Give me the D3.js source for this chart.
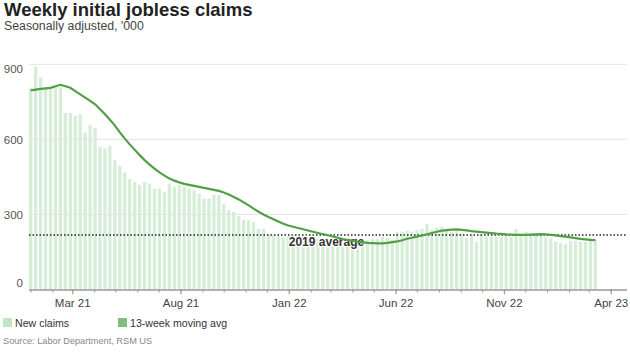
<!DOCTYPE html>
<html>
<head>
<meta charset="utf-8">
<script src="https://cdnjs.cloudflare.com/ajax/libs/d3/7.8.5/d3.min.js"></script>
<style>
  body { margin: 0; background: #fff; }
  svg { display: block; font-family: "Liberation Sans", Arial, sans-serif; }
</style>
</head>
<body>
<svg id="chart" width="630" height="354"></svg>
<script>
// week ending date of the first bar, one bar per week after that
let firstWeek = "2021-01-02";

// new claims, seasonally adjusted, '000
let newClaims = [805, 891, 847, 808, 808, 812, 810, 705, 705, 694,
  700, 627, 658, 645, 571, 565, 574, 518, 494, 467,
  441, 430, 419, 429, 423, 403, 403, 391, 423, 411,
  417, 411, 403, 397, 383, 362, 363, 379, 378, 341,
  318, 309, 294, 279, 278, 269, 243, 242, 217, 217,
  213, 209, 214, 218, 216, 213, 210, 207, 204, 200,
  197, 194, 192, 194, 196, 198, 198, 198, 197, 201,
  201, 211, 206, 198, 229, 231, 235, 231, 238, 242,
  262, 238, 247, 251, 238, 231, 238, 225, 205, 218,
  190, 218, 211, 211, 211, 211, 213, 211, 241, 218,
  231, 218, 218, 225, 209, 205, 191, 185, 181, 195,
  195, 191, 191, 205, 198];

// 13-week moving average
let movingAvg = [796, 799, 802, 804, 806, 812, 818, 812, 806, 793,
  780, 767, 754, 740, 720, 700, 678, 655, 628, 603,
  580, 558, 537, 517, 499, 483, 468, 455, 444, 435,
  428, 422, 418, 414, 410, 406, 402, 398, 394, 388,
  380, 370, 360, 348, 336, 323, 311, 300, 290, 281,
  272, 263, 256, 251, 246, 241, 236, 231, 226, 221,
  217, 212, 207, 202, 198, 195, 191, 188, 186, 185,
  184, 184, 186, 189, 192, 197, 203, 207, 211, 216,
  221, 226, 231, 235, 237, 239, 240, 238, 236, 233,
  231, 229, 227, 225, 223, 222, 220, 219, 218, 218,
  218, 219, 220, 221, 220, 218, 216, 213, 211, 208,
  205, 202, 200, 198, 197];

let avg2019 = 218;
let avgLabel = "2019 average";
let yTicks = [0, 300, 600, 900];
let xTickDates = ["2021-03-01", "2021-08-01", "2022-01-01", "2022-06-01", "2022-11-01", "2023-04-01"];
let legendLabels = ["New claims", "13-week moving avg"];

let parse = d3.timeParse("%Y-%m-%d");
let start = parse(firstWeek);
let weeks = newClaims.map((d, i) => d3.timeWeek.offset(start, i));

let svg = d3.select("#chart");

// scales
let x = d3.scaleTime()
  .domain([parse("2021-01-01"), parse("2023-04-24")])
  .range([30.5, 627]);
let y = d3.scaleLinear()
  .domain([0, 900])
  .range([289.5, 64.3]);

// title + subtitle
svg.append("text")
  .attr("x", 4).attr("y", 16)
  .style("font-size", "18.5px").style("font-weight", "bold")
  .style("fill", "#222")
  .text("Weekly initial jobless claims");
svg.append("text")
  .attr("x", 4).attr("y", 29.5)
  .style("font-size", "12.3px")
  .style("fill", "#444")
  .text("Seasonally adjusted, '000");

// bars
svg.append("g")
  .selectAll("rect")
  .data(newClaims)
  .enter()
  .append("rect")
  .attr("x", (d, i) => x(weeks[i]) - 2.2)
  .attr("y", d => y(d))
  .attr("width", 3.3)
  .attr("height", d => y(0) - y(d))
  .attr("fill", "#d6edd7");

// gridlines
svg.append("g")
  .selectAll("line")
  .data(yTicks.filter(d => d > 0))
  .enter()
  .append("line")
  .attr("x1", 29).attr("x2", 627)
  .attr("y1", d => y(d)).attr("y2", d => y(d))
  .attr("stroke", "#e4e4e4")
  .attr("stroke-width", 1);

// y labels
let yAxis = svg.append("g")
  .attr("transform", "translate(23,0)")
  .call(d3.axisLeft(y).tickValues(yTicks).tickSize(0).tickPadding(0));
yAxis.select(".domain").remove();
yAxis.selectAll("text")
  .style("font-size", "11.5px")
  .style("font-family", "'Liberation Sans', Arial, sans-serif")
  .style("fill", "#555")
  .attr("dy", d => d == 900 ? "0.75em" : (d == 0 ? "-0.3em" : "0.32em"));

// 2019 average
svg.append("line")
  .attr("x1", 29).attr("x2", 627)
  .attr("y1", y(avg2019)).attr("y2", y(avg2019))
  .attr("stroke", "#222")
  .attr("stroke-width", 1.5)
  .attr("stroke-dasharray", "1.5,2");
svg.append("text")
  .attr("x", x(parse("2022-01-01")))
  .attr("y", y(avg2019) + 11.5)
  .style("font-size", "12px").style("font-weight", "bold")
  .style("fill", "#333")
  .style("stroke", "#fff").style("stroke-width", 2.5)
  .style("paint-order", "stroke")
  .text(avgLabel);

// moving average line
let line = d3.line()
  .x((d, i) => x(weeks[i]) - 0.5)
  .y(d => y(d));
svg.append("path")
  .datum(movingAvg)
  .attr("d", line)
  .attr("fill", "none")
  .attr("stroke", "#52a046")
  .attr("stroke-width", 2.2);

// x axis: monthly minor ticks, labels every 5 months
let minor = svg.append("g")
  .attr("transform", "translate(0," + y(0) + ")")
  .call(d3.axisBottom(x).ticks(d3.timeMonth.every(1)).tickSize(3).tickFormat(""));
minor.select(".domain").remove();
minor.selectAll("line").attr("stroke", "#999");

let major = svg.append("g")
  .attr("transform", "translate(0," + y(0) + ")")
  .call(d3.axisBottom(x)
    .tickValues(xTickDates.map(parse))
    .tickSize(5)
    .tickPadding(4)
    .tickFormat(d3.timeFormat("%b %y")));
major.select(".domain")
  .attr("d", "M29,0.5H627")
  .attr("stroke", "#999")
  .attr("stroke-width", 1.5);
major.selectAll("line").attr("stroke", "#999");
major.selectAll("text")
  .style("font-size", "11.5px")
  .style("font-family", "'Liberation Sans', Arial, sans-serif")
  .style("fill", "#444");

// legend
let legendColors = ["#c3e4c3", "#7fbf7b"];
let legend = svg.append("g")
  .selectAll("g")
  .data(legendLabels)
  .enter()
  .append("g")
  .attr("transform", (d, i) => "translate(" + [3, 118][i] + ",318)");
legend.append("rect")
  .attr("width", 9).attr("height", 9)
  .attr("fill", (d, i) => legendColors[i]);
legend.append("text")
  .attr("x", 12).attr("y", 8.5)
  .style("font-size", "10.6px")
  .style("fill", "#333")
  .text(d => d);

// source
svg.append("text")
  .attr("x", 3).attr("y", 344)
  .style("font-size", "9.2px")
  .style("fill", "#888")
  .text("Source: Labor Department, RSM US");
</script>
</body>
</html>
